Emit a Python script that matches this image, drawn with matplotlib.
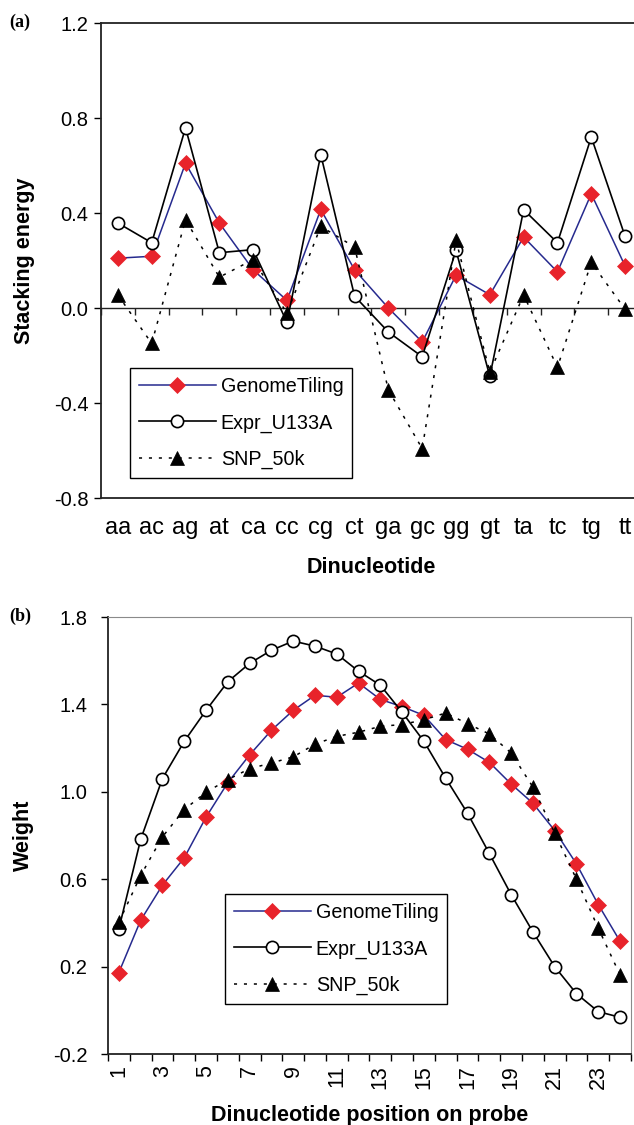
import numpy as np
import matplotlib
matplotlib.use("Agg")
import matplotlib.pyplot as plt
from matplotlib.ticker import FixedLocator

plt.rcParams['font.family'] = ['Liberation Sans', 'DejaVu Sans']
plt.rcParams['axes.unicode_minus'] = False

# ---------------- data: panel (a) ----------------
dinucleotides = ["aa", "ac", "ag", "at", "ca", "cc", "cg", "ct",
                 "ga", "gc", "gg", "gt", "ta", "tc", "tg", "tt"]
energy_genome_tiling = [0.21, 0.218, 0.61, 0.358, 0.161, 0.032, 0.415, 0.161,
                        0.0, -0.143, 0.138, 0.056, 0.299, 0.152, 0.481, 0.177]
energy_expr_u133a = [0.358, 0.275, 0.759, 0.233, 0.246, -0.06, 0.646, 0.05,
                     -0.101, -0.205, 0.243, -0.288, 0.414, 0.275, 0.72, 0.302]
energy_snp_50k = [0.055, -0.149, 0.372, 0.13, 0.204, -0.022, 0.344, 0.257,
                  -0.345, -0.592, 0.285, -0.27, 0.055, -0.25, 0.192, -0.005]
energy_ticks = [-0.8, -0.4, 0.0, 0.4, 0.8, 1.2]
energy_tick_labels = ["-0.8", "-0.4", "0.0", "0.4", "0.8", "1.2"]

# ---------------- data: panel (b) ----------------
positions = list(range(1, 25))
weight_genome_tiling = [0.173, 0.412, 0.573, 0.698, 0.884, 1.042, 1.169, 1.282,
                        1.373, 1.442, 1.433, 1.498, 1.423, 1.390, 1.350, 1.239,
                        1.195, 1.135, 1.036, 0.948, 0.823, 0.670, 0.484, 0.316]
weight_expr_u133a = [0.373, 0.782, 1.061, 1.231, 1.373, 1.504, 1.588, 1.648,
                     1.690, 1.667, 1.631, 1.552, 1.488, 1.364, 1.231, 1.062,
                     0.902, 0.718, 0.530, 0.359, 0.200, 0.076, -0.006, -0.032]
weight_snp_50k = [0.403, 0.617, 0.794, 0.919, 0.998, 1.056, 1.106, 1.132,
                  1.160, 1.218, 1.254, 1.273, 1.300, 1.308, 1.330, 1.361,
                  1.312, 1.265, 1.178, 1.022, 0.812, 0.600, 0.376, 0.162]
weight_ticks = [-0.2, 0.2, 0.6, 1.0, 1.4, 1.8]
weight_tick_labels = ["-0.2", "0.2", "0.6", "1.0", "1.4", "1.8"]
position_labels = [str(p) for p in positions if p % 2 == 1]

series_names = ["GenomeTiling", "Expr_U133A", "SNP_50k"]

BLUE = "#262a8e"
RED = "#e8232b"
YTICK_FS = 14.5
CAT_FS = 17
POS_FS = 15.5
LABEL_FS = 15.5
LEGEND_FS = 14.2

styles = [
    dict(color=BLUE, lw=1.1, marker="D", ms=7.8, mfc=RED, mec=RED, mew=0.5),
    dict(color="black", lw=1.2, marker="o", ms=8.8, mfc="white", mec="black", mew=1.2),
    dict(color="black", lw=1.1, ls=(0, (2, 4.5)), marker="^", ms=10.5,
         mfc="black", mec="black", mew=0.5),
]

fig = plt.figure(figsize=(6.34, 11.25), dpi=100)


def draw_series(ax, x, ys):
    handles = []
    for i, (y, st) in enumerate(zip(ys, styles)):
        h, = ax.plot(x, y, label=series_names[i], zorder=3 + i, **st)
        handles.append(h)
    return handles


def add_legend(ax, handles, anchor):
    leg = ax.legend(handles=handles, loc="lower left", bbox_to_anchor=anchor,
                    borderaxespad=0, fontsize=LEGEND_FS, handlelength=3.9,
                    handletextpad=0.25, labelspacing=0.88, borderpad=0.45,
                    fancybox=False, framealpha=1, edgecolor="black")
    leg.get_frame().set_linewidth(1.0)
    leg.set_zorder(10)
    return leg


# ================= panel (a) =================
axa = fig.add_axes([0.1593, 0.5573, 0.8533, 0.4222])
xa = np.arange(1, len(dinucleotides) + 1)
ha = draw_series(axa, xa, [energy_genome_tiling, energy_expr_u133a, energy_snp_50k])
axa.set_xlim(0.5, len(dinucleotides) + 0.5)
axa.set_ylim(-0.8, 1.2)
axa.set_yticks(energy_ticks)
axa.set_yticklabels(energy_tick_labels, fontsize=YTICK_FS)
axa.tick_params(axis="y", direction="out", length=5, width=1.0, pad=4)
axa.set_xticks(xa)
axa.set_xticklabels(dinucleotides, fontsize=CAT_FS)
axa.tick_params(axis="x", length=0, pad=14)
for side in ["left", "top", "bottom", "right"]:
    axa.spines[side].set_linewidth(1.3)
    axa.spines[side].set_color("#222222")

# zero line with category-boundary tick marks
zero_axis = axa.secondary_xaxis((0 - (-0.8)) / (1.2 - (-0.8)))
zero_axis.set_xticks(np.arange(0.5, len(dinucleotides) + 1, 1.0))
zero_axis.set_xticklabels([])
zero_axis.tick_params(direction="out", length=5, width=1.0, colors="#222222")
zero_axis.spines["bottom"].set_linewidth(1.0)
zero_axis.spines["bottom"].set_color("#222222")

axa.set_xlabel("Dinucleotide", fontsize=LABEL_FS, fontweight="bold", va="center")
axa.xaxis.set_label_coords(0.5, -0.147)
axa.set_ylabel("Stacking energy", fontsize=LABEL_FS, fontweight="bold", va="center")
axa.yaxis.set_label_coords(-0.1405, 0.5)
add_legend(axa, ha, (0.0536, 0.042))

# ================= panel (b) =================
axb = fig.add_axes([0.1703, 0.0631, 0.8249, 0.3884])
hb = draw_series(axb, positions, [weight_genome_tiling, weight_expr_u133a, weight_snp_50k])
axb.set_xlim(0.5, len(positions) + 0.5)
axb.set_ylim(-0.2, 1.8)
axb.set_yticks(weight_ticks)
axb.set_yticklabels(weight_tick_labels, fontsize=YTICK_FS)
axb.tick_params(axis="y", direction="out", length=5, width=1.0, pad=10)
axb.xaxis.set_major_locator(FixedLocator(np.arange(0.5, len(positions) + 1, 1.0)))
axb.xaxis.set_minor_locator(FixedLocator([p for p in positions if p % 2 == 1]))
axb.tick_params(axis="x", which="major", direction="out", length=5, width=1.0,
                labelbottom=False)
axb.tick_params(axis="x", which="minor", length=0, pad=8)
axb.set_xticklabels(position_labels, minor=True, fontsize=POS_FS,
                    rotation=90, va="top", ha="center")
axb.spines["left"].set_color("#222222")
axb.spines["bottom"].set_color("#222222")
axb.spines["left"].set_linewidth(1.3)
axb.spines["bottom"].set_linewidth(1.3)
axb.spines["top"].set_color("#8a8a8a")
axb.spines["right"].set_color("#8a8a8a")

axb.set_xlabel("Dinucleotide position on probe", fontsize=LABEL_FS,
               fontweight="bold", va="center")
axb.xaxis.set_label_coords(0.5, -0.1396)
axb.set_ylabel("Weight", fontsize=LABEL_FS, fontweight="bold", va="center")
axb.yaxis.set_label_coords(-0.1625, 0.5)
add_legend(axb, hb, (0.2237, 0.1144))

# panel tags
fig.text(9 / 634, 1 - 22 / 1125, "(a)", fontsize=13, fontweight="bold",
         family=["Liberation Serif", "DejaVu Serif"], va="center", ha="left")
fig.text(9 / 634, 1 - 616 / 1125, "(b)", fontsize=13, fontweight="bold",
         family=["Liberation Serif", "DejaVu Serif"], va="center", ha="left")

fig.savefig("out.png", dpi=100)
